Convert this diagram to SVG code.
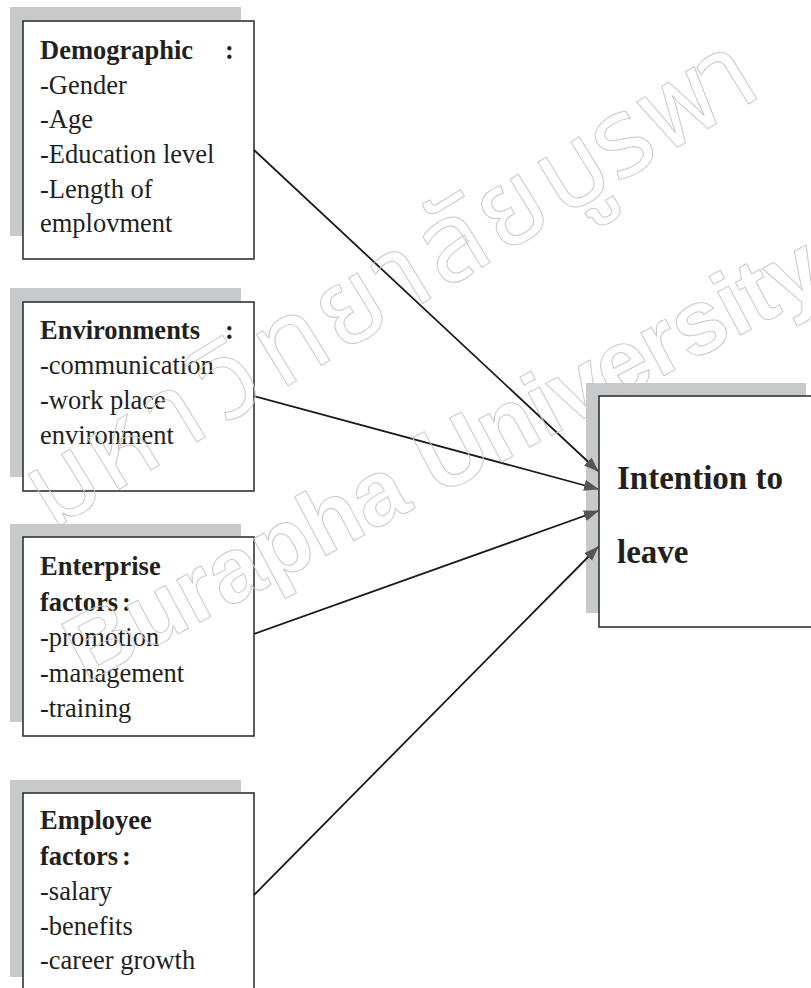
<svg xmlns="http://www.w3.org/2000/svg" width="811" height="988" viewBox="0 0 811 988">
<defs>
<style>
.shadow{fill:#c8c9cb}
.box{fill:#ffffff;stroke:#333333;stroke-width:1.6}
.t{font-family:"Liberation Serif","Times New Roman",serif;font-size:26.5px;fill:#231f20}
.b{font-weight:bold}
.big{font-family:"Liberation Serif","Times New Roman",serif;font-size:33px;font-weight:bold;fill:#231f20}
.wm{fill:none;stroke:#c9c9c9;stroke-width:1}
.th{font-family:"Noto Sans Thai","Noto Sans","DejaVu Sans",sans-serif;font-size:110px;text-anchor:middle}
.conn{stroke:#1a1a1a;stroke-width:1.8;fill:none}
</style>
<marker id="arr" markerUnits="userSpaceOnUse" markerWidth="16" markerHeight="12" refX="14" refY="5.5" orient="auto">
<path d="M0,0 L15,5.5 L0,11 z" fill="#555555"/>
</marker>
</defs>
<rect width="811" height="988" fill="#ffffff"/>

<g id="demographic">
<rect class="shadow" x="10" y="7" width="231" height="229"/>
<rect class="box" x="23" y="21" width="231" height="238"/>
<text class="t b" x="40" y="59">Demographic</text>
<text class="t b" x="225" y="59">:</text>
<text class="t" x="40" y="93.5">-Gender</text>
<text class="t" x="40" y="128">-Age</text>
<text class="t" x="40" y="163">-Education level</text>
<text class="t" x="40" y="197.5">-Length of</text>
<text class="t" x="40" y="232">emplovment</text>
</g>

<g id="environments">
<rect class="shadow" x="10" y="288" width="231" height="189"/>
<rect class="box" x="23" y="302" width="231" height="189"/>
<text class="t b" x="40" y="339">Environments</text>
<text class="t b" x="225" y="339">:</text>
<text class="t" x="40" y="374">-communication</text>
<text class="t" x="40" y="409">-work place</text>
<text class="t" x="40" y="444">environment</text>
</g>

<g id="enterprise">
<rect class="shadow" x="10" y="524" width="231" height="198"/>
<rect class="box" x="23" y="537" width="231" height="199"/>
<text class="t b" x="40" y="575">Enterprise</text>
<text class="t b" x="40" y="610.5">factors<tspan dx="4">:</tspan></text>
<text class="t" x="40" y="646">-promotion</text>
<text class="t" x="40" y="681.5">-management</text>
<text class="t" x="40" y="717">-training</text>
</g>

<g id="employee">
<rect class="shadow" x="10" y="780" width="231" height="197"/>
<rect class="box" x="23" y="793" width="231" height="230"/>
<text class="t b" x="40" y="829">Employee</text>
<text class="t b" x="40" y="864.5">factors<tspan dx="4">:</tspan></text>
<text class="t" x="40" y="899.5">-salary</text>
<text class="t" x="40" y="934.5">-benefits</text>
<text class="t" x="40" y="969">-career growth</text>
</g>

<g id="intention">
<rect class="shadow" x="586" y="383" width="220" height="230"/>
<rect class="box" x="599" y="396" width="240" height="231"/>
<text class="big" x="617" y="489">Intention to</text>
<text class="big" x="617" y="563">leave</text>
</g>

<g id="connectors">
<line class="conn" x1="254" y1="150" x2="598" y2="471" marker-end="url(#arr)"/>
<line class="conn" x1="254" y1="396" x2="598" y2="489" marker-end="url(#arr)"/>
<line class="conn" x1="254" y1="634" x2="598" y2="511" marker-end="url(#arr)"/>
<line class="conn" x1="254" y1="895" x2="598" y2="547" marker-end="url(#arr)"/>
</g>

<g id="watermark">
<g transform="translate(53,530) rotate(-31.5)">
<text class="wm th" x="32" y="0">ม</text>
<text class="wm th" x="100" y="0">ห</text>
<text class="wm th" x="165" y="0">า</text>
<text class="wm th" x="228" y="0">วิ</text>
<text class="wm th" x="300" y="0">ท</text>
<text class="wm th" x="370" y="0">ย</text>
<text class="wm th" x="430" y="0">า</text>
<text class="wm th" x="490" y="0">ลั</text>
<text class="wm th" x="559" y="0">ย</text>
<text class="wm th" x="630" y="0">บู</text>
<text class="wm th" x="688" y="0">ร</text>
<text class="wm th" x="755" y="0">พ</text>
<text class="wm th" x="812" y="0">า</text>
</g>
<text class="wm" x="0" y="0" transform="translate(86,683) rotate(-28)" font-family="'Liberation Sans',Arial,sans-serif" font-weight="bold" font-size="92" textLength="842" lengthAdjust="spacingAndGlyphs">Burapha University</text>
</g>
</svg>
